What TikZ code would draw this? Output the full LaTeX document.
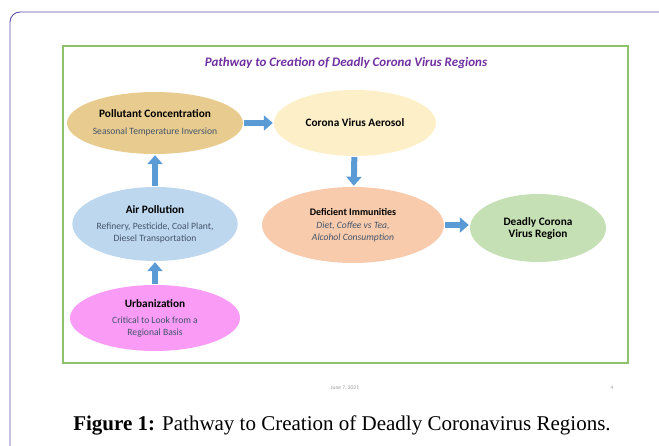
\documentclass[tikz,border=0pt]{standalone}
\usepackage{fontspec}
\setmainfont{Liberation Serif}
\setsansfont{Carlito}
\usepackage{tikz}
\usetikzlibrary{arrows.meta,positioning,shapes.geometric}
\definecolor{pframe}{HTML}{5A4FA6}
\definecolor{gframe}{HTML}{8DC26A}
\definecolor{ptitle}{HTML}{7030A0}
\definecolor{flowblue}{HTML}{5B9BD5}
\definecolor{subtxt}{HTML}{44546A}
\definecolor{ctan}{HTML}{E8CB8E}
\definecolor{cyellow}{HTML}{FDF0C9}
\definecolor{cblue}{HTML}{BDD7EE}
\definecolor{cpink}{HTML}{FA9BF6}
\definecolor{corange}{HTML}{F8CBAD}
\definecolor{cgreen}{HTML}{C5E0B4}
\definecolor{fgrey}{HTML}{9A9A9A}
\newcommand{\headfont}{\fontsize{11.3}{13}\selectfont\bfseries}
\newcommand{\subfont}{\fontsize{9.6}{13}\selectfont\mdseries\color{subtxt}}

\begin{document}
\begin{tikzpicture}[x=1pt,y=-1pt,every node/.style={font=\sffamily}]
  \tikzset{
    blob/.style={ellipse,inner sep=0pt,align=center,text=black},
    flow/.style={-{Triangle[length=9pt,width=15pt]},flowblue,line width=6pt,
      shorten <=1pt,shorten >=1pt}
  }
  \useasboundingbox (0,0) rectangle (659,446);

  % page frame and slide frame
  \draw[pframe,line width=0.9pt] (10,446) -- (10,22) arc (180:270:10) -- (659,12);
  \draw[gframe,line width=1.3pt] (63,46) rectangle (628,363);

  \node[font=\sffamily\bfseries\itshape\fontsize{13}{15}\selectfont,text=ptitle] (title) at (346,63)
    {Pathway to Creation of Deadly Corona Virus Regions};

  % the pathway
  \node[blob,fill=ctan,minimum width=170,minimum height=62] (poll) at (155,123)
    {\headfont Pollutant Concentration\\[5pt]
     \subfont Seasonal Temperature Inversion};
  \node[blob,fill=cyellow,minimum width=162,minimum height=66] (aero) at (355,123)
    {\headfont Corona Virus Aerosol};
  \node[blob,fill=cblue,minimum width=162,minimum height=74] (air) at (155,224)
    {\headfont Air Pollution\\[4pt]
     \subfont Refinery, Pesticide, Coal Plant,\\ \subfont Diesel Transportation};
  \node[blob,fill=cpink,minimum width=170,minimum height=66] (urban) at (155,318)
    {\headfont Urbanization\\[4pt]
     \subfont Critical to Look from a\\ \subfont Regional Basis};
  \node[blob,fill=corange,minimum width=182,minimum height=76] (defi) at (353,225)
    {\headfont\fontsize{10}{13}\selectfont Deficient Immunities\\[1pt]
     \subfont\itshape Diet, Coffee vs Tea,\\ \subfont\itshape Alcohol Consumption};
  \node[blob,fill=cgreen,minimum width=136,minimum height=68] (dead) at (538,228)
    {\headfont Deadly Corona\\ \headfont Virus Region};

  \draw[flow] (urban) -- (air);
  \draw[flow] (air) -- (poll);
  \draw[flow] (poll) -- (aero);
  \draw[flow] (aero) -- (defi);
  \draw[flow] (defi.east) -- (defi.east -| dead.west);

  % slide footer and caption
  \node[font=\sffamily\fontsize{5.5}{6}\selectfont,text=fgrey] (date) at (345,388) {June 7, 2021};
  \node[font=\sffamily\fontsize{5.5}{6}\selectfont,text=fgrey] (pnum) at (612,388) {4};
  \node[font=\rmfamily\fontsize{21}{24}\selectfont] (cap) at (342,425)
    {\textbf{Figure 1:} Pathway to Creation of Deadly Coronavirus Regions.};
\end{tikzpicture}
\end{document}
